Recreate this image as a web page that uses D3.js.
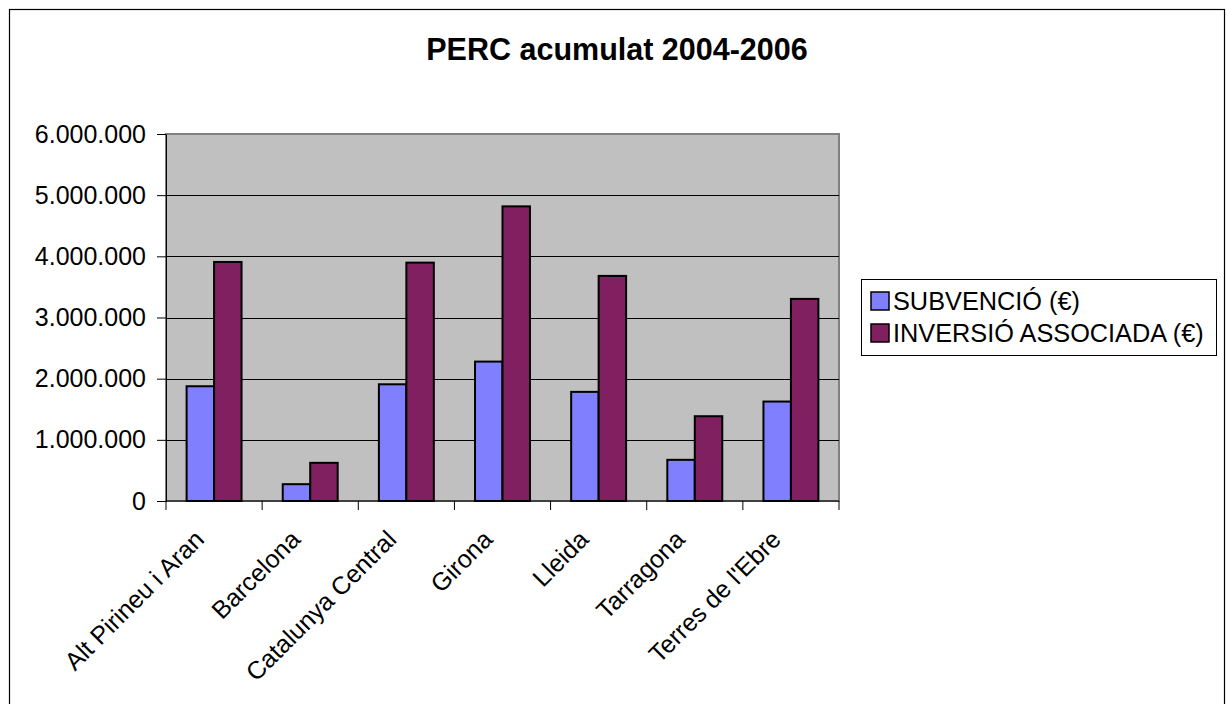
<!DOCTYPE html>
<html>
<head>
<meta charset="utf-8">
<script src="https://cdnjs.cloudflare.com/ajax/libs/d3/7.8.5/d3.min.js"></script>
<style>
  body { margin: 0; background: #fff; }
  text { font-family: "Liberation Sans", Arial, sans-serif; fill: #000; }
</style>
</head>
<body>
<div id="chart"></div>
<script>
// Data
const categories = ["Alt Pirineu i Aran", "Barcelona", "Catalunya Central", "Girona", "Lleida", "Tarragona", "Terres de l'Ebre"];
const seriesNames = ["SUBVENCIÓ (€)", "INVERSIÓ ASSOCIADA (€)"];
const subvencio = [1876000, 275000, 1908000, 2279000, 1784000, 673000, 1626000];
const inversio = [3908000, 624000, 3897000, 4817000, 3680000, 1386000, 3304000];
const yTicks = [0, 1000000, 2000000, 3000000, 4000000, 5000000, 6000000];
const colors = ["#8080FF", "#802060"];

const W = 1226, H = 704;
const plot = { left: 166, top: 134, right: 839, bottom: 501 };

const svg = d3.select("#chart").append("svg")
    .attr("width", W)
    .attr("height", H);

// outer chart border (bottom edge runs past the window)
svg.append("rect")
    .attr("x", 9.5).attr("y", 9.5)
    .attr("width", 1215).attr("height", 710)
    .attr("fill", "#fff")
    .attr("stroke", "#000")
    .attr("stroke-width", 1.2);

// title
svg.append("text")
    .attr("x", 617).attr("y", 60)
    .attr("text-anchor", "middle")
    .style("font-size", "30.5px")
    .style("font-weight", "bold")
    .text("PERC acumulat 2004-2006");

// scales
const x = d3.scaleBand()
    .domain(categories)
    .range([plot.left, plot.right])
    .padding(0);

const xInner = d3.scaleBand()
    .domain(seriesNames)
    .range([0, x.bandwidth()])
    .paddingInner(0)
    .paddingOuter(0.75);

const y = d3.scaleLinear()
    .domain([0, 6000000])
    .range([plot.bottom, plot.top]);

const fmt = d3.formatLocale({ decimal: ",", thousands: ".", grouping: [3], currency: ["", "€"] }).format(",");

// plot area background
svg.append("rect")
    .attr("x", plot.left).attr("y", plot.top)
    .attr("width", plot.right - plot.left)
    .attr("height", plot.bottom - plot.top)
    .attr("fill", "#C0C0C0")
    .attr("stroke", "#808080")
    .attr("stroke-width", 2);

// gridlines
svg.append("g")
    .selectAll("line")
    .data(yTicks.filter(d => d > 0 && d < 6000000))
    .join("line")
    .attr("x1", plot.left).attr("x2", plot.right)
    .attr("y1", d => Math.round(y(d)) + 0.5)
    .attr("y2", d => Math.round(y(d)) + 0.5)
    .attr("stroke", "#000")
    .attr("stroke-width", 1);

// bars
const rows = categories.map((c, i) => ({ cat: c, values: [subvencio[i], inversio[i]] }));

svg.append("g")
    .selectAll("g")
    .data(rows)
    .join("g")
    .attr("transform", d => `translate(${x(d.cat)},0)`)
    .selectAll("rect")
    .data(d => d.values.map((v, j) => ({ key: seriesNames[j], value: v, j: j })))
    .join("rect")
    .attr("x", d => xInner(d.key))
    .attr("y", d => y(d.value))
    .attr("width", xInner.bandwidth())
    .attr("height", d => y(0) - y(d.value))
    .attr("fill", d => colors[d.j])
    .attr("stroke", "#000")
    .attr("stroke-width", 2);

// y axis
const yAxis = svg.append("g")
    .attr("transform", `translate(${plot.left},0)`)
    .call(d3.axisLeft(y).tickValues(yTicks).tickFormat(fmt).tickSize(9).tickSizeOuter(0).tickPadding(11));
yAxis.selectAll("text").style("font-size", "25px").style("font-family", "Liberation Sans, Arial, sans-serif");
yAxis.selectAll("line, path").attr("stroke", "#000");

// x axis, ticks on the category boundaries
const xAxis = svg.append("g")
    .attr("transform", `translate(0,${plot.bottom})`);
xAxis.append("line")
    .attr("x1", plot.left).attr("x2", plot.right)
    .attr("stroke", "#000");
xAxis.selectAll(".tick")
    .data(categories.map(c => x(c)).concat([plot.right]))
    .join("line")
    .attr("class", "tick")
    .attr("x1", d => d).attr("x2", d => d)
    .attr("y1", 0).attr("y2", 9)
    .attr("stroke", "#000");

// rotated category labels, end of text just left of the band centre
xAxis.selectAll(".label")
    .data(categories)
    .join("text")
    .attr("class", "label")
    .attr("transform", d => `translate(${x(d) + x.bandwidth() / 2 - 8.5},${40}) rotate(-45)`)
    .attr("text-anchor", "end")
    .style("font-size", "25px")
    .text(d => d);

// legend
const legend = svg.append("g");
legend.append("rect")
    .attr("x", 861.5).attr("y", 279.5)
    .attr("width", 355).attr("height", 76)
    .attr("fill", "#fff")
    .attr("stroke", "#000")
    .attr("stroke-width", 1);

const items = legend.selectAll(".item")
    .data(seriesNames)
    .join("g")
    .attr("class", "item")
    .attr("transform", (d, i) => `translate(871,${301 + i * 32})`);

items.append("rect")
    .attr("x", 0).attr("y", -9)
    .attr("width", 18).attr("height", 18)
    .attr("fill", (d, i) => colors[i])
    .attr("stroke", "#000")
    .attr("stroke-width", 1.5);

items.append("text")
    .attr("x", 22).attr("y", 0)
    .attr("dy", "0.35em")
    .style("font-size", "25.3px")
    .text(d => d);
</script>
</body>
</html>
